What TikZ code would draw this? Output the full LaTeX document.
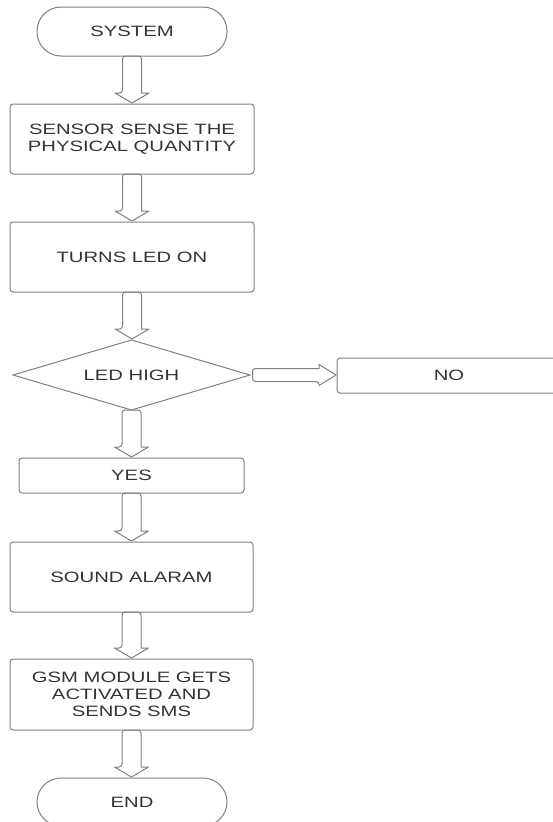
\documentclass[tikz,border=0pt]{standalone}
\usepackage{fontspec}
\setmainfont{Liberation Sans}[FakeStretch=1.35]
\usetikzlibrary{shapes.geometric,calc}
\definecolor{linegray}{HTML}{808080}
\definecolor{textgray}{HTML}{333333}
\tikzset{
  every node/.style={font=\fontsize{15}{17}\selectfont, text=textgray},
  procbox/.style={draw=linegray, line width=1pt, rounded corners=3pt, outer sep=0pt, inner sep=0pt, align=center},
  termbox/.style={draw=linegray, line width=1pt, rounded corners=24pt, outer sep=0pt, inner sep=0pt, align=center},
  decbox/.style={diamond, draw=linegray, line width=1pt, outer sep=0pt, inner sep=0pt, aspect=3.4},
  barrow/.style={draw=linegray, line width=1pt, line join=round}
}
\newcommand\vbarrow[2]{%
  \draw[barrow] let \p1=(#1.south), \p2=(#2.north) in
    (\x1+9.5pt,\y2+11pt) [rounded corners=3pt] -- (\x1+9.5pt,\y1) -- (\x1-9.5pt,\y1)
    -- (\x1-9.5pt,\y2+11pt) [sharp corners] -- (\x1-17pt,\y2+11pt) -- (\x1,\y2+1pt)
    -- (\x1+17pt,\y2+11pt) -- cycle;}
\begin{document}
\begin{tikzpicture}[x=1pt,y=-1pt]
\useasboundingbox (0,0) rectangle (553,822);
\clip (0,0) rectangle (553,822);
\node[termbox, minimum width=190pt, minimum height=49pt] (sys) at (132,31.5) {SYSTEM};
\node[procbox, minimum width=244pt, minimum height=70pt] (sense) at (132,139) {SENSOR SENSE THE\\PHYSICAL QUANTITY};
\node[procbox, minimum width=244pt, minimum height=70pt] (led) at (132,257) {TURNS LED ON};
\node[decbox, minimum width=237pt, minimum height=70pt] (dec) at (131.5,375) {LED HIGH};
\node[procbox, minimum width=224pt, minimum height=35pt] (no) at (449,375.5) {NO};
\node[procbox, minimum width=225pt, minimum height=35pt] (yes) at (131.5,475.5) {YES};
\node[procbox, minimum width=243pt, minimum height=70pt] (alarm) at (131.5,577) {SOUND ALARAM};
\node[procbox, minimum width=243pt, minimum height=71pt] (gsm) at (131.5,694.5) {GSM MODULE GETS\\ACTIVATED AND\\SENDS SMS};
\node[termbox, minimum width=190pt, minimum height=48pt] (end) at (132,802) {END};
\vbarrow{sys}{sense}
\vbarrow{sense}{led}
\vbarrow{led}{dec}
\vbarrow{dec}{yes}
\vbarrow{yes}{alarm}
\vbarrow{alarm}{gsm}
\vbarrow{gsm}{end}
\draw[barrow] let \p1=(dec.east), \p2=(no.west) in
  (\x2-18pt,\y1+6.5pt) [rounded corners=3pt] -- (\x1+2.5pt,\y1+6.5pt) -- (\x1+2.5pt,\y1-6.5pt)
  -- (\x2-18pt,\y1-6.5pt) [sharp corners] -- (\x2-18pt,\y1-10.5pt) -- (\x2-1pt,\y1)
  -- (\x2-18pt,\y1+10.5pt) -- cycle;
\end{tikzpicture}
\end{document}
